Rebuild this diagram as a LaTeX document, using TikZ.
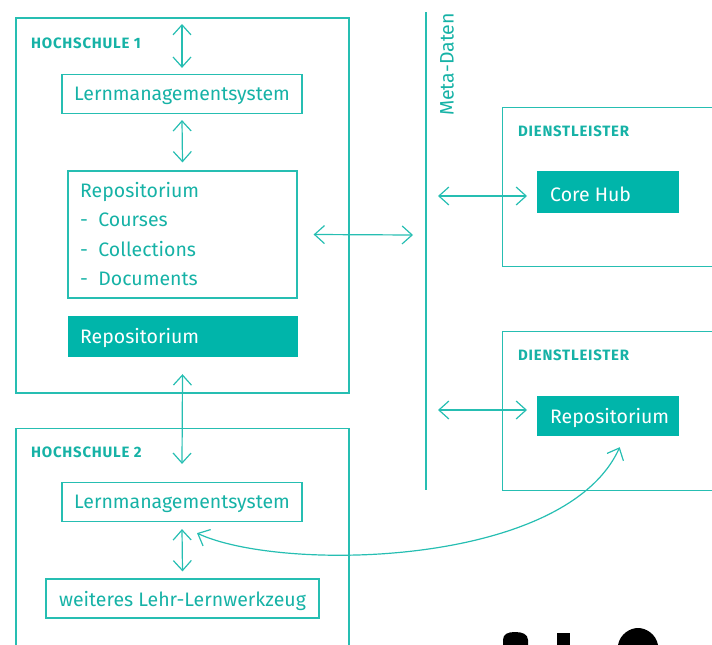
\documentclass[tikz,border=0pt]{standalone}
\usepackage{fontspec}
\setmainfont{Fira Sans}
\newfontfamily\capsfont[LetterSpace=5]{Fira Sans}
\usetikzlibrary{arrows.meta,positioning}
\definecolor{tealline}{RGB}{38,190,178}
\definecolor{tealfill}{RGB}{0,181,170}
\definecolor{tealtext}{RGB}{22,178,166}
\begin{document}
\begin{tikzpicture}[x=1pt,y=-1pt,
  font=\fontsize{19.5}{23}\selectfont, text=tealtext,
  frame/.style={draw=tealline, line width=1.2pt, inner sep=0pt},
  bx/.style={frame, minimum height=39pt},
  fbx/.style={draw=tealfill, fill=tealfill, text=white, inner sep=0pt, minimum height=40pt},
  hd/.style={font=\capsfont\bfseries\fontsize{15}{17}\selectfont, anchor=west, inner sep=0pt},
  fl/.style={{Straight Barb[length=10pt,width=18pt]}-{Straight Barb[length=10pt,width=18pt]},
             draw=tealline, line width=1.2pt}]
\clip (0,0) rectangle (712,645);

% Hochschule 1
\node[frame, minimum width=333pt, minimum height=375pt] (hsone) at (182.5,205.5) {};
\node[hd] (hsonelbl) at (31,43.5) {HOCHSCHULE 1};
\node[bx, minimum width=240pt] (lmsone) at (182,94) {};
\node (lmsonetxt) at (182,96) {Lernmanagementsystem};
\node[frame, minimum width=229pt, minimum height=127pt] (repolist) at (182.5,234.5) {};
\node[anchor=north west, align=left, inner sep=0pt, font=\fontsize{19.5}{29.5}\selectfont]
  (repolisttxt) at (80,182) {Repositorium\\- \ Courses\\- \ Collections\\- \ Documents};
\node[fbx, minimum width=229pt] (repoone) at (182.5,336) {};
\node[anchor=west, inner sep=0pt, text=white] at (80,338) {Repositorium};
\coordinate (hsonetop) at (182,24);
\draw[fl] (hsonetop) -- ([yshift=6pt]lmsone.north);
\draw[fl] ([yshift=-6pt]lmsone.south) -- ([yshift=8pt]repolist.north);

% Hochschule 2
\node[frame, minimum width=333pt, minimum height=260pt, anchor=north] (hstwo) at (182.5,428) {};
\node[hd] (hstwolbl) at (31,452) {HOCHSCHULE 2};
\node[bx, minimum width=240pt] (lmstwo) at (182,502) {};
\node (lmstwotxt) at (182,504) {Lernmanagementsystem};
\node[bx, minimum width=273pt] (tool) at (182.5,598.5) {};
\node (tooltxt) at (182.5,601) {weiteres Lehr-Lernwerkzeug};
\draw[fl] ([yshift=-18pt]repoone.south) -- ([yshift=18pt]lmstwo.north);
\draw[fl] ([yshift=-7pt]lmstwo.south) -- ([yshift=7pt]tool.north);

% Meta-Daten
\coordinate (metatop) at (426,12);
\coordinate (metabot) at (426,490);
\draw[tealline, line width=1.2pt] (metatop) -- (metabot);
\node[rotate=90, anchor=west, inner sep=0pt] (metalbl) at (447,116) {Meta-Daten};
\draw[fl] ([xshift=16pt]repolist.east) -- ([xshift=-13pt]426,235);

% Dienstleister
\node[frame, minimum width=240pt, minimum height=159pt, anchor=north west] (dlone) at (502,107) {};
\node[hd] (dlonelbl) at (518,131.5) {DIENSTLEISTER};
\node[fbx, minimum width=141pt, minimum height=41pt, anchor=west] (corehub) at (537,191.5) {};
\node[anchor=west, inner sep=0pt, text=white] at (550,194) {Core Hub};
\draw[fl] ([xshift=12pt]426,196) -- ([xshift=-10pt]corehub.west |- 0,196);

\node[frame, minimum width=240pt, minimum height=159pt, anchor=north west] (dltwo) at (502,331) {};
\node[hd] (dltwolbl) at (518,355.5) {DIENSTLEISTER};
\node[fbx, minimum width=141pt, minimum height=39pt, anchor=west] (repotwo) at (537,415.5) {};
\node[anchor=west, inner sep=0pt, text=white] at (550,418) {Repositorium};
\draw[fl] ([xshift=12pt]426,410) -- ([xshift=-10pt]repotwo.west |- 0,410);

% Verbindung LMS 2 -- Repositorium Dienstleister
\draw[fl] ([xshift=15pt,yshift=-11pt]lmstwo.south)
  .. controls (280,572) and (565,568) .. ([xshift=12pt,yshift=-12pt]repotwo.south);

% angeschnittene Zeichen am unteren Rand
\fill[black] (503,645) -- (503,640) .. controls (503,634) and (508,632) .. (515,632)
  .. controls (522,632) and (528,634) .. (528,640) -- (528,645) -- cycle;
\fill[black] (557,645) rectangle (570,633);
\fill[black] (618,645) .. controls (620,634) and (630,628) .. (638,628)
  .. controls (646,628) and (656,634) .. (658,645) -- cycle;
\end{tikzpicture}
\end{document}
